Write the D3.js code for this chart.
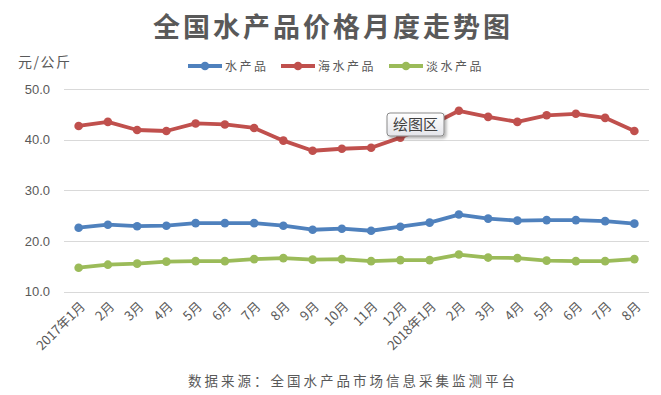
<!DOCTYPE html>
<html>
<head>
<meta charset="utf-8">
<script src="https://cdn.jsdelivr.net/npm/d3@7/dist/d3.min.js"></script>
<style>
  body { margin: 0; background: #fff; }
  svg { display: block; }
</style>
</head>
<body>
<svg id="chart" width="661" height="395"></svg>
<script>
const categories = ["2017年1月","2月","3月","4月","5月","6月","7月","8月","9月","10月","11月","12月","2018年1月","2月","3月","4月","5月","6月","7月","8月"];
const seriesNames = ["水产品","海水产品","淡水产品"];
const allAquatic = [22.6,23.2,22.9,23.0,23.5,23.5,23.5,23.0,22.2,22.4,22.0,22.8,23.6,25.2,24.4,24.0,24.1,24.1,23.9,23.4];
const marine     = [42.7,43.5,41.9,41.7,43.2,43.0,42.3,39.8,37.8,38.2,38.4,40.4,42.8,45.7,44.5,43.5,44.8,45.1,44.3,41.7];
const freshwater = [14.7,15.3,15.5,15.9,16.0,16.0,16.4,16.6,16.3,16.4,16.0,16.2,16.2,17.3,16.7,16.6,16.1,16.0,16.0,16.4];
const yTicks = [10,20,30,40,50];
const colors = ["#4F81BD","#C0504D","#9BBB59"];

const svg = d3.select("#chart");
const fontCJK = "'Noto Sans CJK SC','Noto Sans',sans-serif";

const x = d3.scaleBand().domain(d3.range(categories.length)).range([64, 649]);
const y = d3.scaleLinear().domain([10, 50]).range([291.5, 89]);

// gridlines
svg.append("g").selectAll("line").data(yTicks).join("line")
  .attr("x1", 64).attr("x2", 649)
  .attr("y1", d => Math.round(y(d)) + 0.5).attr("y2", d => Math.round(y(d)) + 0.5)
  .attr("stroke", "#d9d9d9").attr("stroke-width", 1);

// y axis labels
const yAxis = d3.axisLeft(y).tickValues(yTicks).tickFormat(d3.format(".1f")).tickSize(0).tickPadding(0);
const yg = svg.append("g").attr("transform", "translate(50,0)").call(yAxis);
yg.select(".domain").remove();
yg.selectAll("text").attr("font-family", "'Liberation Sans','DejaVu Sans',sans-serif")
  .attr("font-size", 13).attr("fill", "#595959");

// x axis labels
const xAxis = d3.axisBottom(x).tickFormat(i => categories[i]).tickSize(0).tickPadding(0);
const xg = svg.append("g").attr("transform", "translate(0,304)").call(xAxis);
xg.select(".domain").remove();
xg.selectAll("text")
  .attr("font-family", fontCJK).attr("font-size", 13).attr("fill", "#595959")
  .attr("text-anchor", "end").attr("y", 0).attr("dy", "0.35em")
  .attr("transform", "translate(4,0) rotate(-45)");

// series
const series = [allAquatic, marine, freshwater];
const line = d3.line().x((d, i) => x(i) + x.bandwidth() / 2).y(d => y(d));
series.forEach((vals, k) => {
  const g = svg.append("g");
  g.append("path").datum(vals).attr("d", line)
    .attr("fill", "none").attr("stroke", colors[k]).attr("stroke-width", 3.8)
    .attr("stroke-linejoin", "round").attr("stroke-linecap", "round");
  g.selectAll("circle").data(vals).join("circle")
    .attr("cx", (d, i) => x(i) + x.bandwidth() / 2).attr("cy", d => y(d))
    .attr("r", 4.3).attr("fill", colors[k]);
});

// title
svg.append("text").attr("x", 333).attr("y", 37).attr("text-anchor", "middle")
  .attr("font-family", fontCJK).attr("font-weight", "bold").attr("font-size", 27)
  .attr("letter-spacing", 3).attr("fill", "#595959").text("全国水产品价格月度走势图");

// unit
svg.append("text").attr("x", 18).attr("y", 67)
  .attr("font-family", fontCJK).attr("font-size", 14).attr("letter-spacing", 1.5).attr("fill", "#595959")
  .text("元/公斤");

// legend
const legendX = [188, 281, 389];
seriesNames.forEach((name, k) => {
  const g = svg.append("g").attr("transform", `translate(${legendX[k]},66)`);
  g.append("line").attr("x1", 0).attr("x2", 34).attr("y1", 0).attr("y2", 0)
    .attr("stroke", colors[k]).attr("stroke-width", 3.8);
  g.append("circle").attr("cx", 17).attr("cy", 0).attr("r", 4.3).attr("fill", colors[k]);
  g.append("text").attr("x", 37).attr("y", 4.5)
    .attr("font-family", fontCJK).attr("font-size", 12).attr("letter-spacing", 2.5)
    .attr("fill", "#595959").text(name);
});

// source
svg.append("text").attr("x", 353).attr("y", 386).attr("text-anchor", "middle")
  .attr("font-family", fontCJK).attr("font-size", 13.5).attr("letter-spacing", 3)
  .attr("fill", "#595959").text("数据来源：全国水产品市场信息采集监测平台");

// tooltip "绘图区"
const defs = svg.append("defs");
const grad = defs.append("linearGradient").attr("id", "tipGrad").attr("x1", 0).attr("x2", 0).attr("y1", 0).attr("y2", 1);
grad.append("stop").attr("offset", "0%").attr("stop-color", "#ffffff");
grad.append("stop").attr("offset", "100%").attr("stop-color", "#e4e5ea");
const filt = defs.append("filter").attr("id", "tipShadow").attr("x", "-20%").attr("y", "-20%").attr("width", "150%").attr("height", "160%");
filt.append("feDropShadow").attr("dx", 2).attr("dy", 2).attr("stdDeviation", 1.5).attr("flood-color", "#000").attr("flood-opacity", 0.3);
const tip = svg.append("g").attr("transform", "translate(387,113)");
tip.append("rect").attr("width", 57).attr("height", 23).attr("rx", 3)
  .attr("fill", "url(#tipGrad)").attr("stroke", "#8a8a8a").attr("stroke-width", 1)
  .attr("filter", "url(#tipShadow)");
tip.append("text").attr("x", 28.5).attr("y", 17).attr("text-anchor", "middle")
  .attr("font-family", fontCJK).attr("font-size", 15).attr("fill", "#404040").text("绘图区");
</script>
</body>
</html>
